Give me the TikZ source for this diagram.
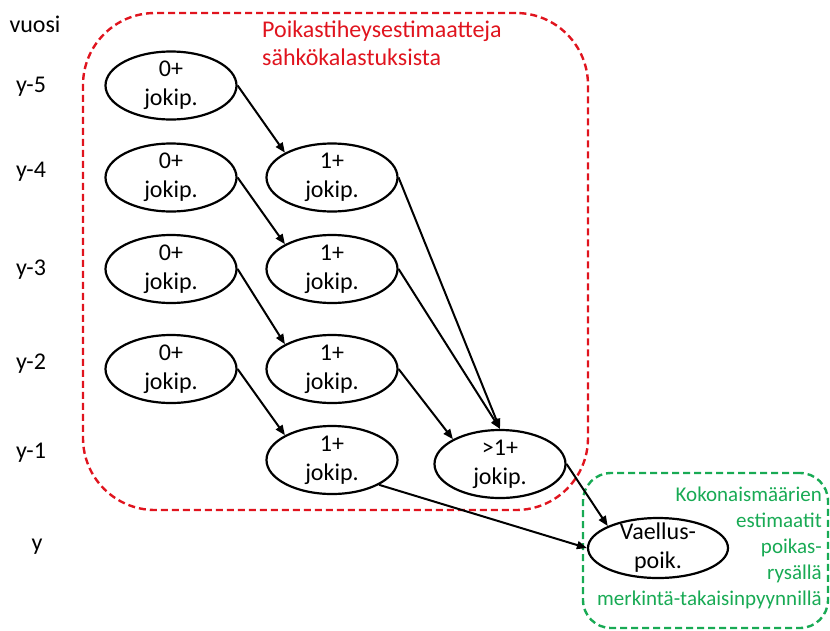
\documentclass[tikz,border=0pt]{standalone}
\usepackage{fontspec}
\setmainfont{Carlito}
\usetikzlibrary{arrows.meta,shapes.geometric}
\definecolor{elred}{RGB}{224,20,30}
\definecolor{estgreen}{RGB}{24,170,84}
\tikzset{
  stage/.style={draw=black, ellipse, line width=2.2pt, minimum width=131pt, minimum height=68pt, inner sep=-4pt, align=center, font=\fontsize{24}{29}\selectfont},
  yearlabel/.style={inner sep=0pt, font=\fontsize{24}{29}\selectfont},
  arrow/.style={-{Triangle[length=10pt,width=8pt]}, line width=2pt},
  elbox/.style={draw=elred, dash pattern=on 7pt off 4pt, line width=2.4pt, rounded corners=72pt},
  estbox/.style={draw=estgreen, dash pattern=on 7pt off 4pt, line width=2.4pt, rounded corners=28pt}
}
\begin{document}
\begin{tikzpicture}[x=1pt, y=-1pt]
\useasboundingbox (0,0) rectangle (830,630);
% alueet
\node[elbox, minimum width=505pt, minimum height=497pt] (elarea) at (335.5,261.5) {};
\node[estbox, minimum width=245pt, minimum height=155pt] (estarea) at (705.5,550.5) {};
\node[anchor=north west, inner sep=0pt, align=left, text=elred, font=\fontsize{24}{28}\selectfont] (eltitle) at (262,21) {Poikastiheysestimaatteja\\sähkökalastuksista};
\node[anchor=north east, inner sep=0pt, align=right, text=estgreen, font=\fontsize{21}{26}\selectfont] (esttext) at (822,487) {Kokonaismäärien\\estimaatit\\poikas-\\rysällä\\merkintä-takaisinpyynnillä};
% vuodet
\node[yearlabel] (vuosi) at (35,24) {vuosi};
\node[yearlabel] (y5) at (31,87) {y-5};
\node[yearlabel] (y4) at (31,172) {y-4};
\node[yearlabel] (y3) at (31,270) {y-3};
\node[yearlabel] (y2) at (31,364) {y-2};
\node[yearlabel] (y1) at (31,453) {y-1};
\node[yearlabel] (y0) at (37,547) {y};
% ikaryhmat
\node[stage] (a5) at (171,85.5) {0+\\jokip.};
\node[stage] (a4) at (171,177.5) {0+\\jokip.};
\node[stage] (a3) at (171,269) {0+\\jokip.};
\node[stage] (a2) at (171,369) {0+\\jokip.};
\node[stage] (b4) at (332,177.5) {1+\\jokip.};
\node[stage] (b3) at (332,269) {1+\\jokip.};
\node[stage] (b2) at (332,369) {1+\\jokip.};
\node[stage] (b1) at (332,460) {1+\\jokip.};
\node[stage] (c1) at (500,464) {>1+\\jokip.};
\node[stage, minimum width=140pt, minimum height=60pt] (smolt) at (658,548) {Vaellus-\\poik.};
% nuolet
\draw[arrow] (a5.east) -- (b4.north west);
\draw[arrow] (a4.east) -- (b3.north west);
\draw[arrow] (a3.east) -- (b2.north west);
\draw[arrow] (a2.east) -- (b1.north west);
\draw[arrow] (b4.east) -- (c1.north);
\draw[arrow] (b3.east) -- (c1.north);
\draw[arrow] (b2.east) -- (c1.north west);
\draw[arrow] (b1.south east) -- (smolt.west);
\draw[arrow] (c1.east) -- (smolt.north west);
\end{tikzpicture}
\end{document}
